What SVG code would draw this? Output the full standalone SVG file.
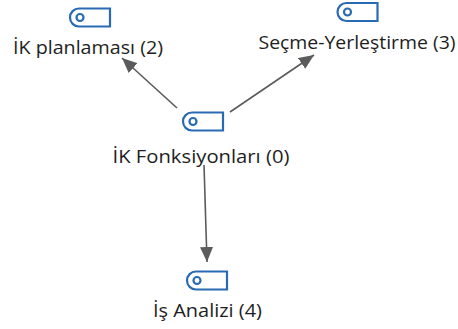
<svg xmlns="http://www.w3.org/2000/svg" width="458" height="329" viewBox="0 0 458 329">
<style>
.lbl{font-family:"Open Sans","Noto Sans","DejaVu Sans",sans-serif;font-size:18px;fill:#1e1e1e;text-anchor:middle}
.ico{fill:#fff;stroke:#2a6ab3;stroke-width:2.2}
.edge{stroke:#5b5b5b;stroke-width:1.6;fill:none}
</style>
<defs>
<marker id="arr" viewBox="0 0 15 13" refX="15" refY="6.5" markerWidth="15" markerHeight="13" markerUnits="userSpaceOnUse" orient="auto">
<path d="M0,0 L15,6.5 L0,13 Z" fill="#5b5b5b"/>
</marker>
<g id="icon">
<path class="ico" d="M-11,-9 H20 V9 H-11 A9,9 0 0 1 -11,-9 Z"/>
<circle class="ico" cx="-10" cy="0" r="3.5" stroke-width="1.9"/>
</g>
</defs>
<g id="connectors">
<line class="edge" x1="177" y1="108" x2="122" y2="58" marker-end="url(#arr)"/>
<line class="edge" x1="230" y1="112" x2="314" y2="55" marker-end="url(#arr)"/>
<line class="edge" x1="204" y1="165" x2="207" y2="262" marker-end="url(#arr)"/>
</g>
<g id="node2">
<use href="#icon" x="90" y="17.5"/>
<text class="lbl" x="88" y="54" textLength="150" lengthAdjust="spacingAndGlyphs">İK planlaması (2)</text>
</g>
<g id="node3">
<use href="#icon" x="357.5" y="12"/>
<text class="lbl" x="357" y="49" textLength="197" lengthAdjust="spacingAndGlyphs">Seçme-Yerleştirme (3)</text>
</g>
<g id="node0">
<use href="#icon" x="203" y="121.5"/>
<text class="lbl" x="201" y="163" textLength="177" lengthAdjust="spacingAndGlyphs">İK Fonksiyonları (0)</text>
</g>
<g id="node4">
<use href="#icon" x="207" y="280.5"/>
<text class="lbl" x="207.5" y="317" textLength="109" lengthAdjust="spacingAndGlyphs">İş Analizi (4)</text>
</g>
</svg>
